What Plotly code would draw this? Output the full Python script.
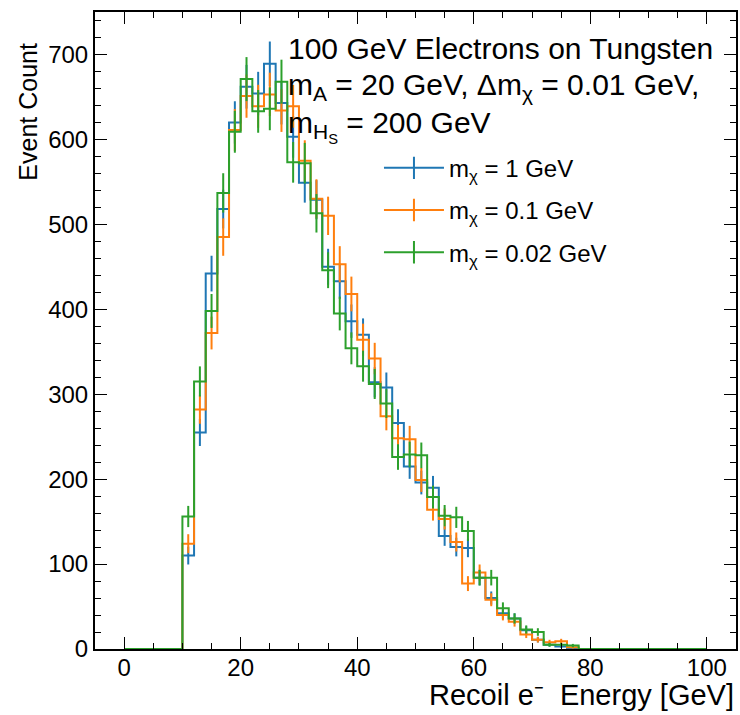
import numpy as np
import plotly.graph_objects as go

# Bin edges (GeV) and counts per 2-GeV bin
bin_edges = list(range(0, 102, 2))

counts_1 = [0, 0, 0, 0, 0,
            110, 255, 442, 518, 620, 662, 654, 689, 643, 603,
            549, 529, 450, 433, 386, 370, 314, 308, 266, 215,
            196, 190, 133, 120, 119, 84, 60, 42, 36, 22,
            11, 5, 3, 1,
            0, 0, 0, 0, 0, 0, 0, 0, 0, 0, 0, 0]
counts_01 = [0, 0, 0, 0, 0,
             124, 282, 372, 485, 611, 651, 639, 653, 634, 639,
             575, 530, 510, 453, 418, 364, 342, 274, 248, 247,
             199, 164, 153, 126, 77, 90, 58, 40, 32, 17,
             11, 8, 9, 2,
             0, 0, 0, 0, 0, 0, 0, 0, 0, 0, 0, 0]
counts_002 = [0, 0, 0, 0, 0,
              156, 315, 398, 537, 609, 671, 633, 636, 668, 573,
              572, 513, 446, 395, 354, 333, 312, 289, 226, 229,
              228, 179, 157, 155, 139, 84, 84, 48, 36, 23,
              20, 5, 5, 4,
              0, 0, 0, 0, 0, 0, 0, 0, 0, 0, 0, 0]

series_names = ["m<sub>χ</sub> = 1 GeV", "m<sub>χ</sub> = 0.1 GeV", "m<sub>χ</sub> = 0.02 GeV"]
series_counts = [counts_1, counts_01, counts_002]
colors = ["#1f77b4", "#ff7f0e", "#2ca02c"]

FONT = "Liberation Sans, Arial, sans-serif"

fig = go.Figure()
edges = np.array(bin_edges, dtype=float)
centers = 0.5 * (edges[:-1] + edges[1:])

for i, (name, cnt, col) in enumerate(zip(series_names, series_counts, colors)):
    cnt = np.array(cnt[:len(centers)], dtype=float)
    grp = f"g{i}"
    # step outline
    fig.add_trace(go.Scatter(
        x=edges, y=np.append(cnt, cnt[-1]), mode="lines",
        line=dict(color=col, width=2, shape="hv"), legendgroup=grp,
        showlegend=False, hoverinfo="skip"))
    # error bars (Poisson)
    mask = cnt > 0
    fig.add_trace(go.Scatter(
        x=centers[mask], y=cnt[mask], mode="markers", legendgroup=grp,
        marker=dict(size=1, color=col, opacity=0),
        error_y=dict(type="data", array=np.sqrt(cnt[mask]), color=col,
                     thickness=2, width=0),
        showlegend=False, hoverinfo="skip"))
    # legend entry
    fig.add_trace(go.Scatter(
        x=[None], y=[None], mode="lines+markers", name=name, legendgroup=grp,
        line=dict(color=col, width=2),
        marker=dict(symbol="line-ns", size=30, color=col,
                    line=dict(color=col, width=2))))

axis_common = dict(
    showline=True, linecolor="black", linewidth=2, mirror="allticks",
    ticks="inside", ticklen=12, tickwidth=1.3, tickcolor="black",
    showgrid=False, zeroline=False,
    tickfont=dict(family=FONT, size=24, color="black"),
)

fig.update_xaxes(range=[-5, 105], tick0=0, dtick=20, ticklabelstandoff=-4,
                 minor=dict(ticks="inside", ticklen=6, dtick=5, tickcolor="black", tickwidth=1),
                 **axis_common)
fig.update_yaxes(range=[0, 750], tick0=0, dtick=100,
                 minor=dict(ticks="inside", ticklen=6, dtick=20, tickcolor="black", tickwidth=1),
                 **axis_common)

annos = [
    dict(text="100 GeV Electrons on Tungsten", x=0.298, y=0.943),
    dict(text="m<sub>A</sub> = 20 GeV, Δm<sub>χ</sub> = 0.01 GeV,", x=0.298, y=0.883),
    dict(text="m<sub>H<sub>S</sub></sub> = 200 GeV", x=0.298, y=0.820),
]
for a in annos:
    fig.add_annotation(xref="paper", yref="paper", xanchor="left", yanchor="middle",
                       showarrow=False, font=dict(family=FONT, size=30, color="black"), **a)

# axis titles (mplhep-style placement)
fig.add_annotation(text="Recoil e⁻  Energy [GeV]", xref="paper", yref="paper",
                   x=1.0, y=-0.101, xanchor="right", yanchor="bottom", showarrow=False,
                   font=dict(family=FONT, size=29, color="black"))
fig.add_annotation(text="Event Count", xref="paper", yref="paper",
                   x=-0.105, y=(649 - 112) / 637, xanchor="center", yanchor="middle", textangle=-90,
                   showarrow=False, font=dict(family=FONT, size=25, color="black"))

fig.update_layout(
    width=740, height=715,
    margin=dict(l=95, r=2, t=12, b=66),
    paper_bgcolor="white", plot_bgcolor="white",
    legend=dict(x=0.443, y=0.790, xanchor="left", yanchor="top",
                font=dict(family=FONT, size=24, color="black"),
                bgcolor="rgba(0,0,0,0)", itemwidth=60,
                traceorder="grouped", tracegroupgap=8),
    showlegend=True,
)

fig.write_html("out.html", config={"displayModeBar": False},
               post_script="document.body.style.margin='0';document.body.style.padding='0';document.body.style.overflow='hidden';")
